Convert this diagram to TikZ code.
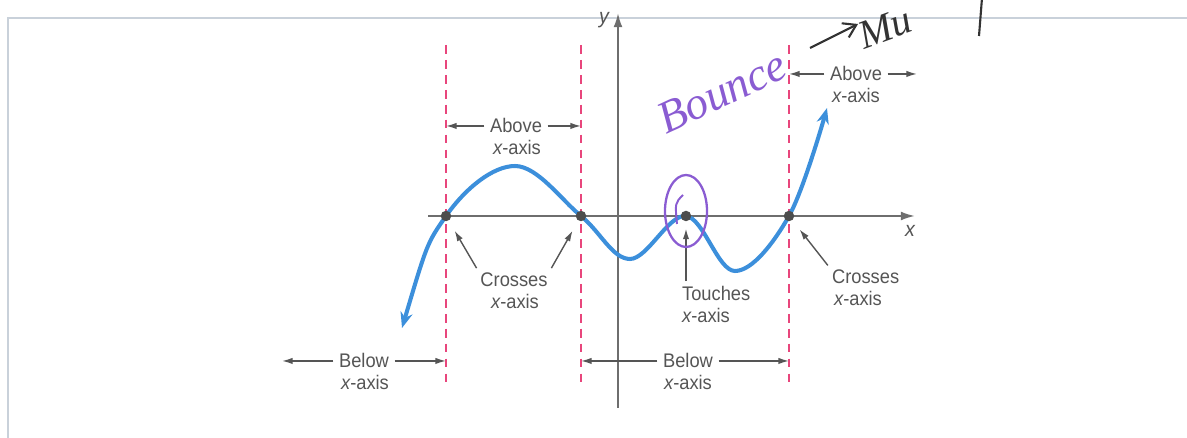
\documentclass[tikz,border=0pt]{standalone}
\usepackage{fontspec}
\newfontfamily\lblfont[FakeStretch=0.93]{Liberation Sans}
\newfontfamily\handfont{Liberation Serif}
\usetikzlibrary{arrows.meta,positioning}
\definecolor{axisgray}{HTML}{6E6E6E}
\definecolor{textgray}{HTML}{555555}
\definecolor{dashred}{HTML}{E8467C}
\definecolor{curveblue}{HTML}{3C8FDB}
\definecolor{penpurple}{HTML}{8A5CD2}
\definecolor{penblack}{HTML}{333333}
\definecolor{framegray}{HTML}{C9D1DA}
\begin{document}
\begin{tikzpicture}[x=0.02cm, y=-0.02cm,
    axis/.style={
        draw=axisgray,
        line width=1.1pt,
        -{Latex[length=8pt,width=5pt]}
    },
    bound/.style={
        draw=dashred,
        line width=1.1pt,
        dash pattern=on 5pt off 3.5pt
    },
    graph/.style={
        draw=curveblue,
        line width=2.3pt,
        {Stealth[length=9pt,width=7pt]}-{Stealth[length=9pt,width=7pt]}
    },
    zero/.style={
        circle,
        fill=axisgray!70!black,
        inner sep=0pt,
        minimum size=0.21cm
    },
    lbl/.style={
        text=textgray,
        font=\lblfont\fontsize{11.2}{13}\selectfont,
        inner sep=1pt,
        anchor=base
    },
    pointer/.style={
        draw=textgray,
        line width=0.8pt,
        shorten <=2pt,
        -{Latex[length=6pt,width=3.6pt]}
    },
    pen/.style={
        font=\handfont\itshape\fontsize{26}{26}\selectfont,
        inner sep=0pt
    }
]

    \useasboundingbox (0,0) rectangle (1187,438);
    \draw[framegray, line width=0.6pt] (8,438) -- (8,18) -- (1187,18);

    % dashed boundaries
    \coordinate (b1) at (446,45);
    \coordinate (b2) at (581,45);
    \coordinate (b3) at (789,45);
    \draw[bound] (b1) -- (446,383);
    \draw[bound] (b2) -- (581,383);
    \draw[bound] (b3) -- (789,383);

    % axes
    \draw[axis] (428,216) -- (915,216);
    \node[lbl, anchor=center, font=\lblfont\itshape\fontsize{12}{13}\selectfont] (xlab) at (910,231) {x};
    \draw[axis] (618,408) -- (618,13);
    \node[lbl, anchor=center, font=\lblfont\itshape\fontsize{12}{13}\selectfont] (ylab) at (604,20) {y};

    % the graph
    \draw[graph] plot[smooth, tension=0.6] coordinates {
        (402,328) (446,216) (515,166) (581,216) (630,259)
        (686,216) (735,271) (789,216) (827,108)};

    \node[zero] (z1) at (446,216) {};
    \node[zero] (z2) at (581,216) {};
    \node[zero] (z3) at (686,216) {};
    \node[zero] (z4) at (789,216) {};

    \coordinate (farL) at (282,362);
    \coordinate (farR) at (917,75);

    % labels
    \node[lbl] (aboveL) at (516,133) {Above};
    \node[lbl] (aboveLx) at (517,155) {\itshape x\upshape-axis};
    \node[lbl] (aboveR) at (856,81) {Above};
    \node[lbl] (aboveRx) at (856,103) {\itshape x\upshape-axis};
    \node[lbl] (crossL) at (514,287) {Crosses};
    \node[lbl] (crossLx) at (515,309) {\itshape x\upshape-axis};
    \node[lbl, anchor=base west] (touch) at (680,301) {Touches};
    \node[lbl, anchor=base west] (touchx) at (680,323) {\itshape x\upshape-axis};
    \node[lbl, anchor=base west] (crossR) at (830,284) {Crosses};
    \node[lbl, anchor=base west] (crossRx) at (832,306) {\itshape x\upshape-axis};
    \node[lbl] (belowL) at (364,368) {Below};
    \node[lbl] (belowLx) at (365,390) {\itshape x\upshape-axis};
    \node[lbl] (belowM) at (688,368) {Below};
    \node[lbl] (belowMx) at (688,390) {\itshape x\upshape-axis};

    % pointers
    \draw[pointer] (aboveL.west) -- (aboveL.west -| b1);
    \draw[pointer] (aboveL.east) -- (aboveL.east -| b2);
    \draw[pointer] (aboveR.west) -- (aboveR.west -| b3);
    \draw[pointer] (aboveR.east) -- (aboveR.east -| farR);
    \draw[pointer] (belowL.west) -- (belowL.west -| farL);
    \draw[pointer] (belowL.east) -- (belowL.east -| b1);
    \draw[pointer] (belowM.west) -- (belowM.west -| b2);
    \draw[pointer] (belowM.east) -- (belowM.east -| b3);
    \draw[pointer, shorten >=6.5pt] (crossL.north west) -- (z1);
    \draw[pointer, shorten >=6.5pt] (crossL.north east) -- (z2);
    \draw[pointer, shorten >=4pt] (z3 |- touch.north) -- (z3);
    \draw[pointer, shorten >=6.5pt] (crossR.north west) -- (z4);

    % handwriting
    \node[pen, text=penpurple, rotate=25] (bounce) at (722,92) {Bounce};
    \draw[penpurple, line width=1.3pt] (z3) ++(0,-5) ellipse [x radius=0.42cm, y radius=0.72cm];
    \draw[penpurple, line width=1.1pt] (683,195) .. controls (675,203) .. (677,224);
    \coordinate (hw1) at (810,48);
    \coordinate (hw2) at (858,24);
    \draw[penblack, line width=1.2pt, -{Straight Barb[length=7pt,width=9pt]}] (hw1) -- (hw2);
    \node[pen, text=penblack, rotate=20, anchor=south west, font=\handfont\itshape\fontsize{23}{23}\selectfont] (multi) at (864,50) {Mu};
    \draw[penblack, line width=1.2pt] (982,-2) -- (979,36);
\end{tikzpicture}
\end{document}
